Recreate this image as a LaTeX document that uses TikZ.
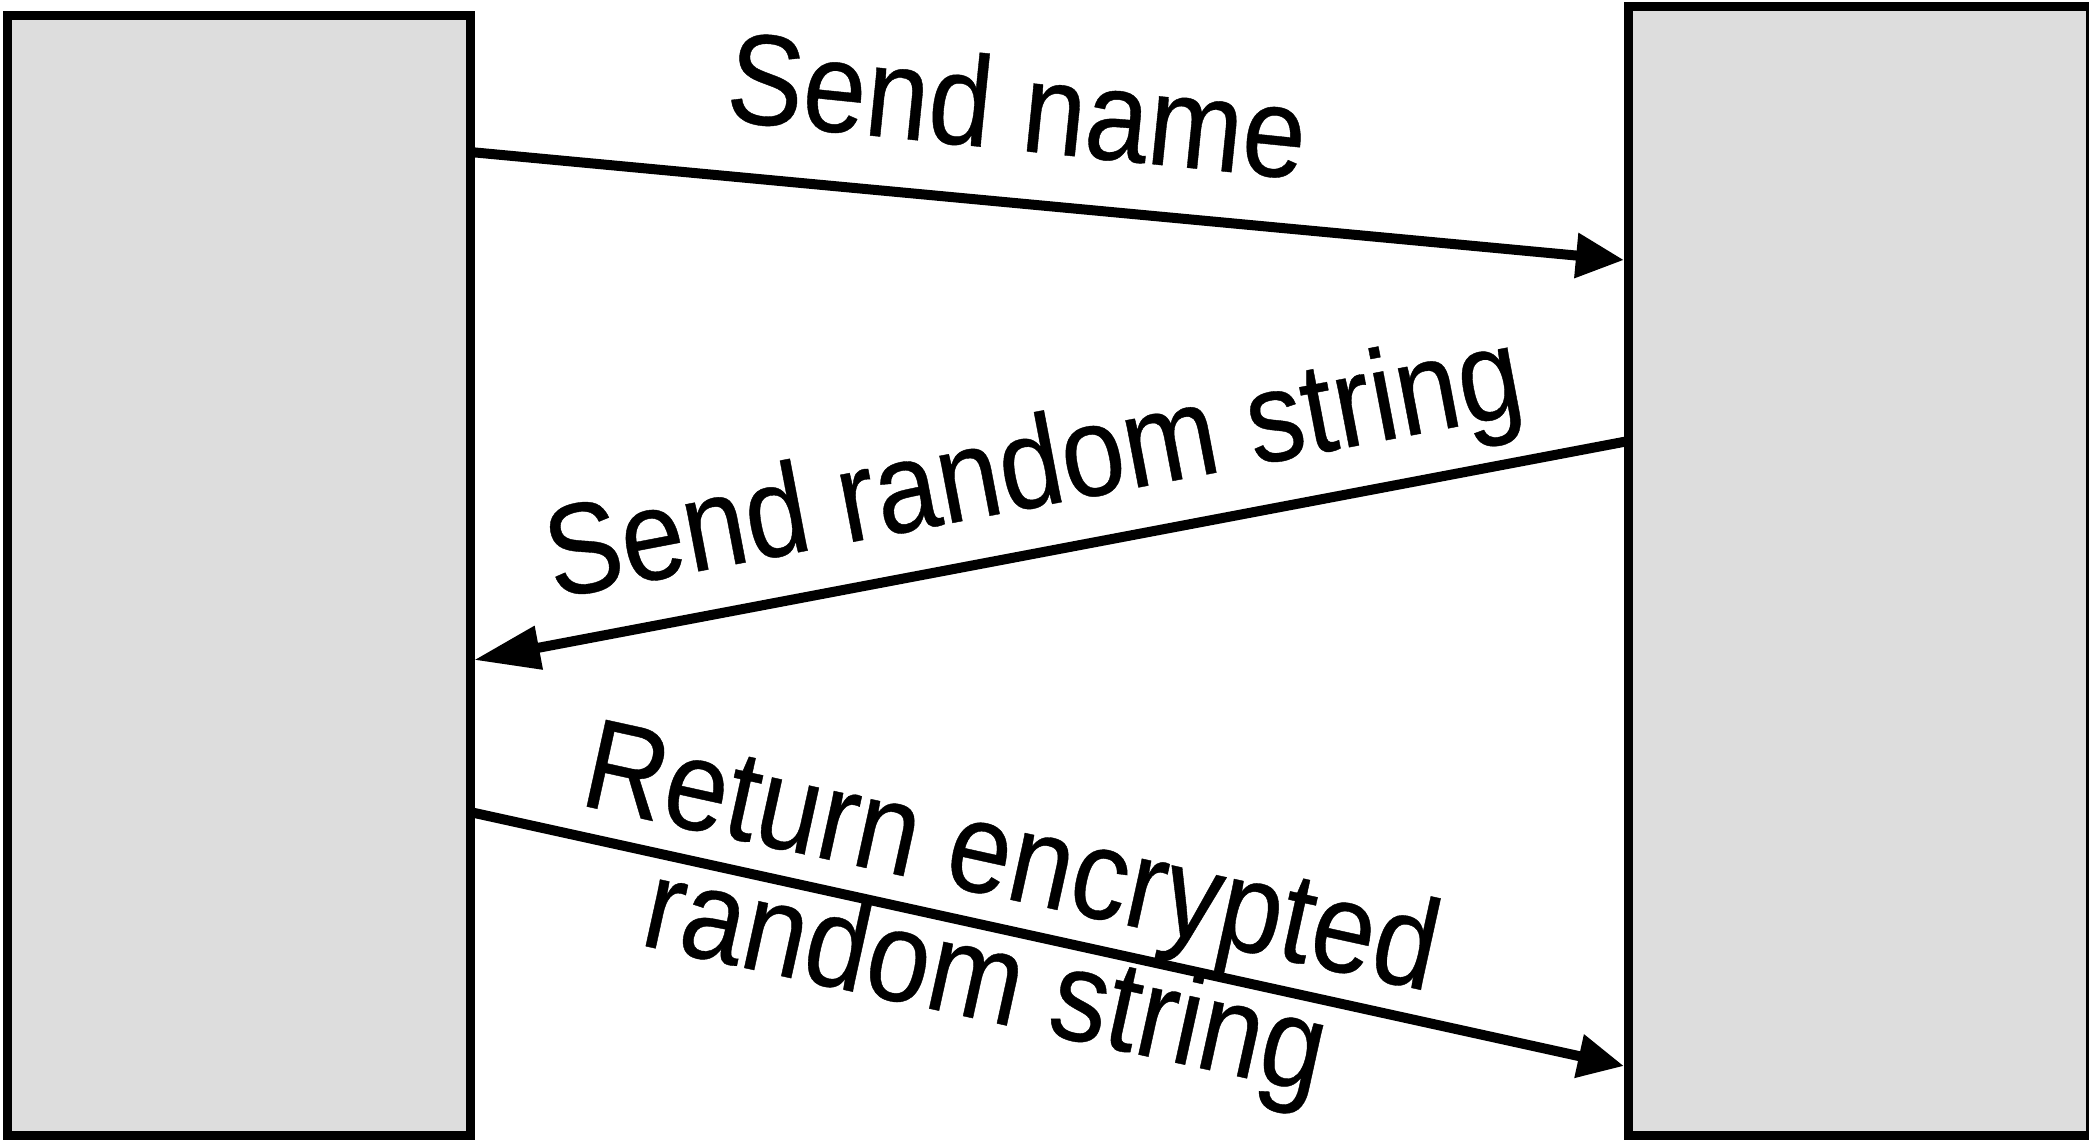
\documentclass[tikz,border=0pt]{standalone}
\usepackage{fontspec}
\newfontfamily\lblfont[FakeStretch=0.88,FakeBold=0.3]{Liberation Sans}
\usetikzlibrary{arrows.meta}
\definecolor{boxgray}{RGB}{221,221,221}
\begin{document}
\begin{tikzpicture}[x=1pt,y=-1pt,
  box/.style={draw=black, fill=boxgray, line width=9pt, rectangle, outer sep=0pt, inner sep=0pt, anchor=north west},
  msg/.style={line width=10pt, draw=black},
  lbl/.style={font=\lblfont\fontsize{129pt}{123pt}\selectfont, inner sep=0pt, anchor=base}]
\useasboundingbox (0,0) rectangle (2089,1143);
\node[box, minimum width=462.5pt, minimum height=1120pt] (L) at (7.5,15.5) {};
\node[box, minimum width=462pt, minimum height=1129pt] (R) at (1628.5,6.5) {};
\coordinate (a1s) at (470,152);
\coordinate (a1e) at (1624,260);
\coordinate (a2s) at (1628.5,441);
\coordinate (a2e) at (474,660);
\coordinate (a3s) at (470,812);
\coordinate (a3e) at (1624,1066);
\draw[msg, -{Triangle[length=48pt,width=43pt]}] (a1s) -- (a1e);
\draw[msg, -{Triangle[length=66pt,width=42pt]}] (a2s) -- (a2e);
\draw[msg, -{Triangle[length=46pt,width=42pt]}] (a3s) -- (a3e);
\node[lbl, rotate=-5.8] (t1) at (1013,150) {Send name};
\node[lbl, rotate=10.8] (t2) at (1041,506) {Send random string};
\node[lbl, rotate=-12.4] (t3a) at (1003,898) {Return encrypted};
\node[lbl, rotate=-12.4] (t3b) at (977,1019) {random string};
\end{tikzpicture}
\end{document}
